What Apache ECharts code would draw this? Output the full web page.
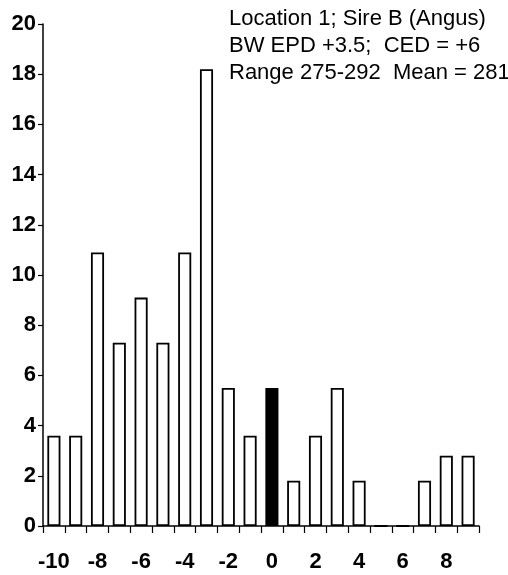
<!DOCTYPE html>
<html>
<head>
<meta charset="utf-8">
<script src="https://cdn.jsdelivr.net/npm/echarts@6/dist/echarts.min.js"></script>
<style>html,body{margin:0;padding:0;background:#fff;}#c{width:508px;height:575px;}</style>
</head>
<body>
<div id="c"></div>
<script>
var categories = ['-10','-9','-8','-7','-6','-5','-4','-3','-2','-1','0','1','2','3','4','5','6','7','8','9'];
var values = [3.6, 3.6, 10.9, 7.3, 9.1, 7.3, 10.9, 18.2, 5.5, 3.6, 5.5, 1.8, 3.6, 5.5, 1.8, 0, 0, 1.8, 2.8, 2.8];
var highlightCategory = '0';
var yTicks = {min: 0, max: 20, interval: 2};
var noteLines = ['Location 1; Sire B (Angus)', 'BW EPD +3.5;  CED = +6', 'Range 275-292  Mean = 281'];

var narrow = "'Liberation Sans Narrow','Arial Narrow','Liberation Sans',Arial,sans-serif";
var chart = echarts.init(document.getElementById('c'), null, {renderer: 'canvas'});
var data = values.map(function (v, i) {
  var hi = categories[i] === highlightCategory;
  return {value: v, itemStyle: {color: hi ? '#000' : '#fff'}};
});
chart.setOption({
  animation: false,
  backgroundColor: '#fff',
  grid: {left: 43, right: 29, top: 24, bottom: 49, containLabel: false},
  xAxis: {
    type: 'category',
    data: categories,
    boundaryGap: true,
    axisLine: {lineStyle: {color: '#000', width: 1.5}},
    axisTick: {show: true, alignWithLabel: false, interval: 0, length: 7, lineStyle: {color: '#000', width: 1.2}},
    axisLabel: {interval: 1, margin: 25, color: '#000', fontSize: 22, fontWeight: 'bold', fontFamily: narrow},
    splitLine: {show: false}
  },
  yAxis: {
    type: 'value',
    min: yTicks.min, max: yTicks.max, interval: yTicks.interval,
    axisLine: {show: true, lineStyle: {color: '#000', width: 1.5}},
    axisTick: {show: true, length: 5, lineStyle: {color: '#000', width: 1.2}},
    axisLabel: {margin: 7, color: '#000', fontSize: 22, fontWeight: 'bold', fontFamily: narrow},
    splitLine: {show: false}
  },
  graphic: noteLines.map(function (t, i) {
    return {
      type: 'text', left: 229, top: 8 + i * 27,
      style: {text: t, fontSize: 22, fontFamily: "'Liberation Sans', Arial, sans-serif", fill: '#000'}
    };
  }),
  series: [{
    type: 'bar',
    data: data,
    barCategoryGap: '40%',
    itemStyle: {borderColor: '#000', borderWidth: 1.8}
  }]
});
</script>
</body>
</html>
